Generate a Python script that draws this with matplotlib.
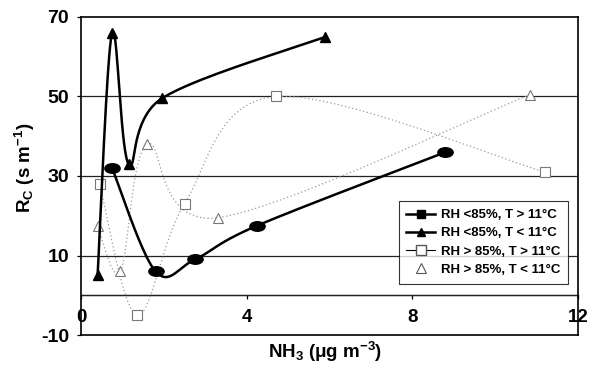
import numpy as np
import matplotlib
matplotlib.use("Agg")
import matplotlib.pyplot as plt
from matplotlib.path import Path
from matplotlib.lines import Line2D

plt.rcParams['font.family'] = ['Liberation Sans', 'DejaVu Sans']
plt.rcParams['font.weight'] = 'bold'
plt.rcParams['mathtext.default'] = 'regular'

# Data
x_lo_warm = [0.75, 1.8, 2.75, 4.25, 8.8]
y_lo_warm = [32, 6, 9, 17.5, 36]
x_lo_cold = [0.4, 0.75, 1.15, 1.95, 5.9]
y_lo_cold = [5, 66, 33, 49.5, 65]
x_hi_warm = [0.45, 1.35, 2.5, 4.7, 11.2]
y_hi_warm = [28, -5, 23, 50, 31]
x_hi_cold = [0.4, 0.95, 1.6, 3.3, 10.85]
y_hi_cold = [17.5, 6, 38, 19.5, 50.5]

labels = ["RH <85%, T > 11\u00b0C", "RH <85%, T < 11\u00b0C",
          "RH > 85%, T > 11\u00b0C", "RH > 85%, T < 11\u00b0C"]
yticks = [-10, 10, 30, 50, 70]
xticks = [0, 4, 8, 12]


def smooth(x, y, n=40):
    P = np.column_stack([x, y]).astype(float)
    Pp = np.vstack([P[0], P, P[-1]])
    out = []
    t = np.linspace(0, 1, n)[:, None]
    for i in range(1, len(Pp) - 2):
        p0, p1, p2, p3 = Pp[i - 1], Pp[i], Pp[i + 1], Pp[i + 2]
        c1 = p1 + (p2 - p0) / 6.0
        c2 = p2 - (p3 - p1) / 6.0
        seg = ((1 - t) ** 3) * p1 + 3 * ((1 - t) ** 2) * t * c1 + 3 * (1 - t) * t ** 2 * c2 + t ** 3 * p2
        out.append(seg)
    s = np.vstack(out)
    return s[:, 0], s[:, 1]


circ = Path.unit_circle()
ellipse = Path(circ.vertices * np.array([1.6, 1.0]), circ.codes)

fig = plt.figure(figsize=(6.01, 3.69), dpi=100)
ax = fig.add_axes([81 / 601, (369 - 335) / 369, 497 / 601, 318 / 369])
ax.set_xlim(0, 12)
ax.set_ylim(-10, 70)

for v in [0, 10, 30, 50]:
    ax.axhline(v, color='#222222', lw=0.9, zorder=1)

gray = '#9a9a9a'
sx, sy = smooth(x_hi_warm, y_hi_warm)
ax.plot(sx, sy, color=gray, lw=0.9, ls=(0, (1, 2)), zorder=2)
ax.plot(x_hi_warm, y_hi_warm, ls='none', marker='s', ms=7, mfc='white', mec='#777777', mew=0.8, zorder=3)
sx, sy = smooth(x_hi_cold, y_hi_cold)
ax.plot(sx, sy, color=gray, lw=0.9, ls=(0, (1, 2)), zorder=2)
ax.plot(x_hi_cold, y_hi_cold, ls='none', marker='^', ms=7, mfc='white', mec='#777777', mew=0.8, zorder=3)

sx, sy = smooth(x_lo_warm, y_lo_warm)
ax.plot(sx, sy, color='black', lw=1.8, zorder=4)
ax.plot(x_lo_warm, y_lo_warm, ls='none', marker=ellipse, ms=11, color='black', zorder=5)
sx, sy = smooth(x_lo_cold, y_lo_cold)
ax.plot(sx, sy, color='black', lw=1.8, zorder=4)
ax.plot(x_lo_cold, y_lo_cold, ls='none', marker='^', ms=6.5, color='black', zorder=5)

for sp in ax.spines.values():
    sp.set_linewidth(1.2)

ax.set_yticks(yticks)
ax.set_yticklabels([str(v) for v in yticks])
ax.tick_params(axis='y', direction='out', length=3, width=0.9, labelsize=14, pad=5.5)
ax.tick_params(axis='x', bottom=False, labelbottom=False)

sec = ax.secondary_xaxis(10 / 80)
sec.set_xticks(xticks)
sec.set_xticklabels([str(v) for v in xticks])
sec.tick_params(direction='out', length=3, width=0.9, labelsize=13.5, pad=7)
sec.spines['bottom'].set_linewidth(0.9)

ax.set_ylabel('R$_C$ (s m$^{-1}$)', fontsize=13.5, fontweight='bold')
ax.yaxis.set_label_coords((37 - 81) / 497, (335 - 168) / 318)
ax.set_xlabel('NH$_3$ (\u03bcg m$^{-3}$)', fontsize=13.5, fontweight='bold')
ax.xaxis.set_label_coords((325 - 81) / 497, (335 - 340) / 318)

handles = [
    Line2D([], [], color='black', lw=1.8, marker='s', ms=6),
    Line2D([], [], color='black', lw=1.8, marker='^', ms=6),
    Line2D([], [], color='black', lw=0.8, marker='s', ms=7, mfc='white', mec='#555555'),
    Line2D([], [], ls='none', marker='^', ms=7, mfc='white', mec='#555555', mew=0.8),
]
leg = ax.legend(handles, labels, loc='upper right', bbox_to_anchor=(0.98, 0.421),
                borderaxespad=0, fancybox=False, frameon=True,
                prop={'weight': 'bold', 'size': 9.5}, handlelength=2.2,
                handletextpad=0.4, labelspacing=0.45, borderpad=0.6)
leg.get_frame().set_edgecolor('black')
leg.get_frame().set_linewidth(0.8)

fig.savefig('out.png', dpi=100)
